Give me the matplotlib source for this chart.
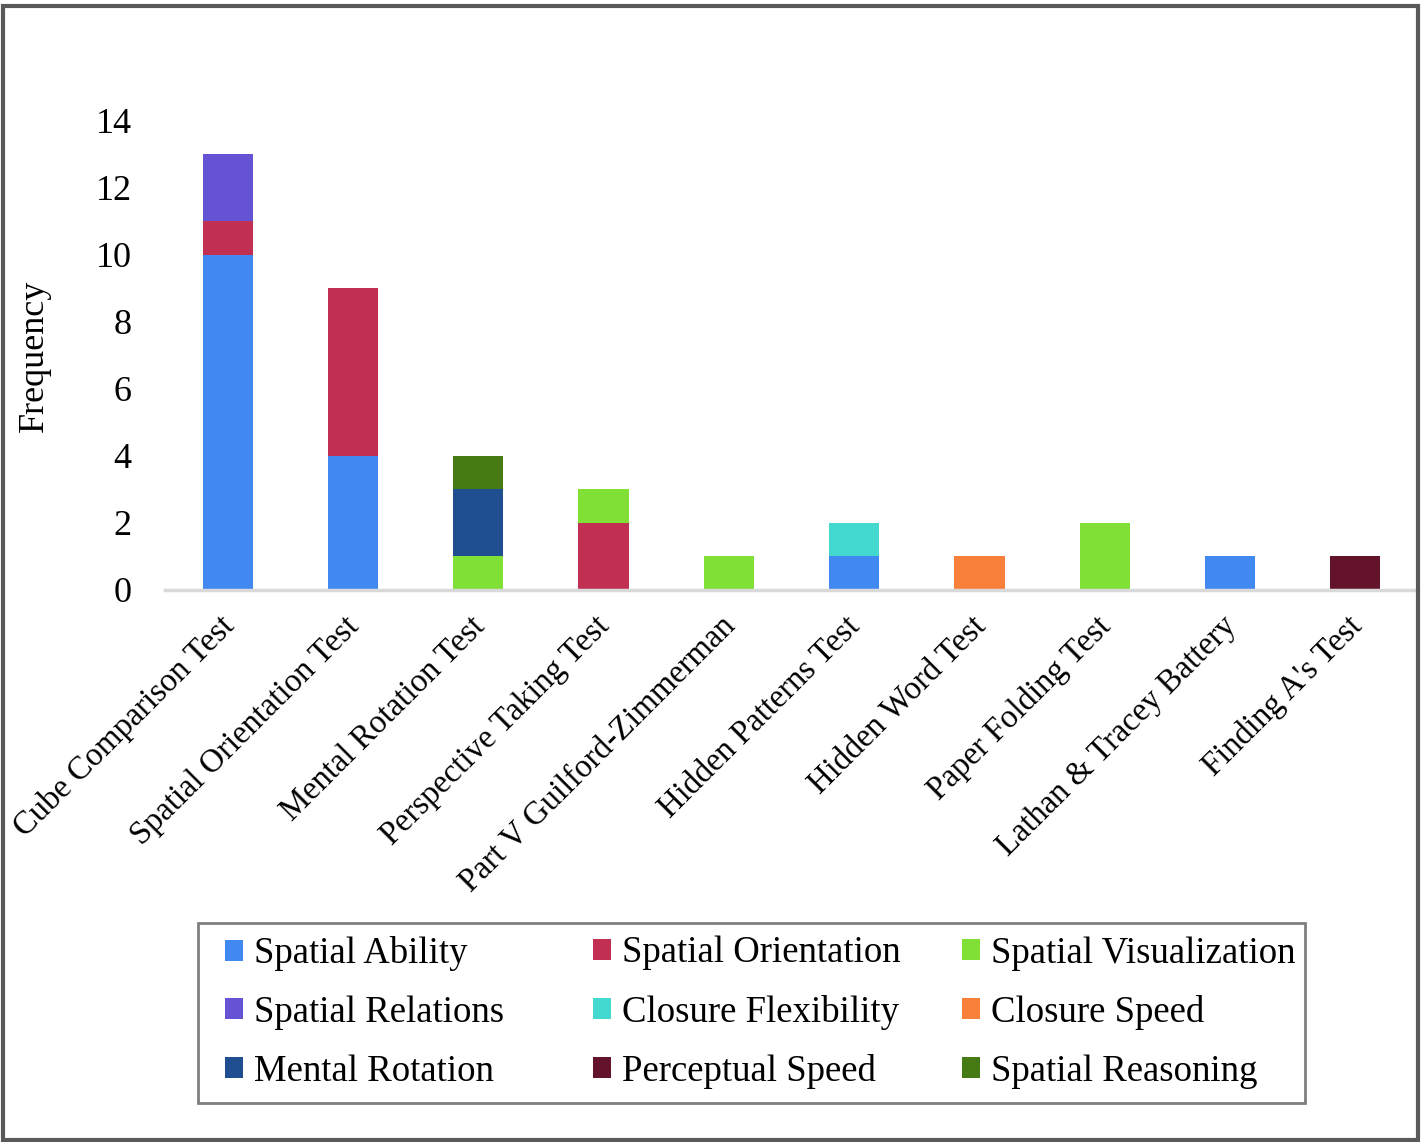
import numpy as np
import matplotlib
matplotlib.use('Agg')
import matplotlib.pyplot as plt
import matplotlib.transforms as mtransforms
from matplotlib.patches import Rectangle

plt.rcParams['font.family'] = ['Liberation Serif', 'DejaVu Serif']

tests = ['Cube Comparison Test', 'Spatial Orientation Test', 'Mental Rotation Test',
         'Perspective Taking Test', 'Part V Guilford-Zimmerman', 'Hidden Patterns Test',
         'Hidden Word Test', 'Paper Folding Test', 'Lathan & Tracey Battery',
         "Finding A's Test"]

spatial_ability       = [10, 4, 0, 0, 0, 1, 0, 0, 1, 0]
spatial_orientation   = [1, 5, 0, 2, 0, 0, 0, 0, 0, 0]
spatial_visualization = [0, 0, 1, 1, 1, 0, 0, 2, 0, 0]
spatial_relations     = [2, 0, 0, 0, 0, 0, 0, 0, 0, 0]
closure_flexibility   = [0, 0, 0, 0, 0, 1, 0, 0, 0, 0]
closure_speed         = [0, 0, 0, 0, 0, 0, 1, 0, 0, 0]
mental_rotation       = [0, 0, 2, 0, 0, 0, 0, 0, 0, 0]
perceptual_speed      = [0, 0, 0, 0, 0, 0, 0, 0, 0, 1]
spatial_reasoning     = [0, 0, 1, 0, 0, 0, 0, 0, 0, 0]

series = [
    ('Spatial Ability', spatial_ability, '#4189F0'),
    ('Spatial Orientation', spatial_orientation, '#C13053'),
    ('Spatial Visualization', spatial_visualization, '#80E035'),
    ('Spatial Relations', spatial_relations, '#6553D6'),
    ('Closure Flexibility', closure_flexibility, '#44D9CF'),
    ('Closure Speed', closure_speed, '#F9803A'),
    ('Mental Rotation', mental_rotation, '#1F4E91'),
    ('Perceptual Speed', perceptual_speed, '#63142A'),
    ('Spatial Reasoning', spatial_reasoning, '#457A15'),
]

W, H = 1421, 1142
fig = plt.figure(figsize=(W / 100, H / 100), dpi=100)
ax = fig.add_axes([0.1161, 0.4834, 0.8818, 0.4107])

x = np.arange(len(tests))
bottom = np.zeros(len(tests))
handles = []
for name, vals, col in series:
    b = ax.bar(x, vals, 0.4, bottom=bottom, color=col, label=name)
    handles.append(b)
    bottom += np.array(vals)

ax.set_xlim(-0.5, len(tests) - 0.5)
ax.set_ylim(0, 14)
ax.set_yticks(range(0, 15, 2))
ax.tick_params(axis='y', length=0, labelsize=26, pad=24)
ax.tick_params(axis='x', length=0, pad=15)
ax.set_xticks(x)
ax.set_xticklabels(tests, rotation=45, ha='right', rotation_mode='anchor', fontsize=23.5)
shift = mtransforms.ScaledTranslation(-9 / 100, 0, fig.dpi_scale_trans)
for lab in ax.get_xticklabels():
    lab.set_transform(lab.get_transform() + shift)
for s in ['top', 'right', 'left']:
    ax.spines[s].set_visible(False)
ax.spines['bottom'].set_color('#D9D9D9')
ax.spines['bottom'].set_linewidth(2.5)
ax.set_ylabel('Frequency', fontsize=26, labelpad=32)

# legend: three rows, entries run left to right, fixed column starts
ncol = 3
col_x = [225, 593, 962]
for c in range(ncol):
    idx = [r * ncol + c for r in range(3)]
    leg = fig.legend([handles[i] for i in idx], [series[i][0] for i in idx],
                     loc='center left', bbox_to_anchor=(col_x[c] / W, 1 - 1012.5 / H),
                     borderaxespad=0, borderpad=0, frameon=False,
                     fontsize=26.5, handlelength=0.5, handleheight=0.5,
                     handletextpad=0.3, labelspacing=0.66)
fig.patches.append(Rectangle((198 / W, 1 - 1103 / H), 1107 / W, 180 / H,
                             transform=fig.transFigure, fill=False,
                             edgecolor='#7F7F7F', linewidth=2))

fig.patches.append(Rectangle((0.002, 0.002), 0.996, 0.993, transform=fig.transFigure,
                             fill=False, edgecolor='#595959', linewidth=3))

fig.savefig('out.png', dpi=100)
